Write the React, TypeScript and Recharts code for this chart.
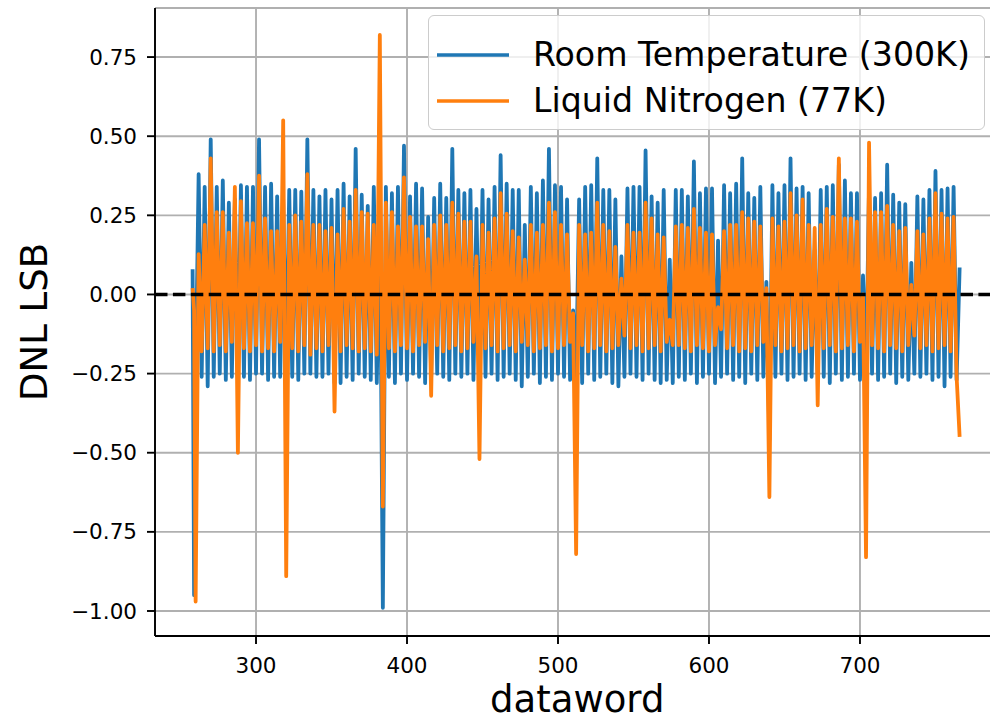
import React from 'react';
import { LineChart, Line, XAxis, YAxis, CartesianGrid, ReferenceLine, Legend } from 'recharts';

// Start of the sweep (datawords 258, 259)
const START_WORDS = [258, 259];
const BLUE_START = [0.08, -0.95];
const ORANGE_START = [0.02, -0.05];

// Troughs at datawords 260, 264, ... 764 ; peaks at 262, 266, ... 766
const FIRST_TROUGH_WORD = 260;
const WORD_STEP = 4;

const BLUE_TROUGHS = [
  -0.28, -0.26, -0.29, -0.26, -0.25, -0.27, -0.26, -0.27,
  -0.26, -0.27, -0.25, -0.25, -0.27, -0.26, -0.26, -0.25,
  -0.26, -0.27, -0.25, -0.25, -0.26, -0.26, -0.25, -0.28,
  -0.28, -0.26, -0.27, -0.25, -0.26, -0.27, -0.28, -0.99,
  -0.26, -0.28, -0.25, -0.27, -0.25, -0.26, -0.28, -0.26,
  -0.25, -0.26, -0.27, -0.25, -0.26, -0.25, -0.27, -0.25,
  -0.26, -0.25, -0.27, -0.26, -0.25, -0.27, -0.29, -0.26,
  -0.25, -0.28, -0.26, -0.27, -0.25, -0.26, -0.27, -0.26,
  -0.28, -0.25, -0.27, -0.26, -0.25, -0.28, -0.29, -0.26,
  -0.25, -0.26, -0.27, -0.25, -0.27, -0.28, -0.27, -0.28,
  -0.26, -0.27, -0.25, -0.28, -0.26, -0.25, -0.28, -0.26,
  -0.25, -0.27, -0.26, -0.28, -0.25, -0.27, -0.26, -0.46,
  -0.26, -0.25, -0.27, -0.26, -0.25, -0.27, -0.26, -0.25,
  -0.26, -0.28, -0.25, -0.27, -0.26, -0.25, -0.27, -0.26,
  -0.25, -0.27, -0.26, -0.25, -0.28, -0.26, -0.27, -0.25,
  -0.26, -0.25, -0.27, -0.26, -0.29, -0.26, -0.27,
];

const BLUE_PEAKS = [
  0.38, 0.34, 0.49, 0.34, 0.36, 0.29, 0.30, 0.345,
  0.34, 0.34, 0.49, 0.34, 0.35, 0.31, 0.30, 0.33,
  0.33, 0.325, 0.49, 0.33, 0.31, 0.33, 0.30, 0.33,
  0.35, 0.31, 0.46, 0.315, 0.28, 0.34, 0.30, 0.34,
  0.32, 0.34, 0.47, 0.31, 0.35, 0.335, 0.245, 0.305,
  0.35, 0.305, 0.46, 0.33, 0.32, 0.33, 0.27, 0.33,
  0.30, 0.34, 0.44, 0.35, 0.33, 0.33, 0.22, 0.34,
  0.32, 0.36, 0.46, 0.345, 0.34, 0.30, -0.05, 0.30,
  0.34, 0.345, 0.43, 0.33, 0.33, 0.30, 0.12, 0.335,
  0.34, 0.34, 0.455, 0.31, 0.29, 0.33, 0.11, 0.33,
  0.33, 0.31, 0.42, 0.32, 0.335, 0.335, 0.17, 0.345,
  0.32, 0.35, 0.43, 0.32, 0.305, 0.34, 0.04, 0.345,
  0.32, 0.345, 0.43, 0.335, 0.34, 0.32, 0.14, 0.33,
  0.34, 0.345, 0.41, 0.36, 0.32, 0.32, 0.06, 0.34,
  0.305, 0.32, 0.41, 0.315, 0.29, 0.285, 0.10, 0.31,
  0.30, 0.33, 0.39, 0.33, 0.335, 0.34, 0.085,
];

const ORANGE_TROUGHS = [
  -0.97, -0.18, -0.17, -0.18, -0.16, -0.18, -0.15, -0.50,
  -0.17, -0.18, -0.16, -0.18, -0.17, -0.18, -0.15, -0.89,
  -0.17, -0.18, -0.16, -0.19, -0.17, -0.18, -0.16, -0.37,
  -0.18, -0.16, -0.17, -0.18, -0.17, -0.18, -0.19, -0.67,
  -0.17, -0.18, -0.16, -0.17, -0.18, -0.16, -0.15, -0.32,
  -0.16, -0.18, -0.17, -0.16, -0.18, -0.17, -0.15, -0.52,
  -0.17, -0.16, -0.18, -0.17, -0.16, -0.18, -0.15, -0.16,
  -0.18, -0.17, -0.16, -0.18, -0.17, -0.16, -0.15, -0.82,
  -0.16, -0.18, -0.17, -0.16, -0.18, -0.17, -0.16, -0.13,
  -0.17, -0.16, -0.18, -0.17, -0.16, -0.18, -0.15, -0.16,
  -0.16, -0.17, -0.18, -0.16, -0.17, -0.18, -0.16, -0.11,
  -0.17, -0.16, -0.18, -0.17, -0.18, -0.16, -0.15, -0.64,
  -0.16, -0.18, -0.17, -0.16, -0.18, -0.17, -0.16, -0.35,
  -0.17, -0.16, -0.18, -0.17, -0.16, -0.18, -0.15, -0.83,
  -0.16, -0.17, -0.18, -0.16, -0.17, -0.18, -0.16, -0.13,
  -0.17, -0.16, -0.18, -0.17, -0.16, -0.18, -0.26,
];

const ORANGE_PEAKS = [
  0.127, 0.22, 0.43, 0.26, 0.26, 0.195, 0.34, 0.295,
  0.225, 0.225, 0.375, 0.24, 0.20, 0.20, 0.55, 0.22,
  0.25, 0.23, 0.38, 0.22, 0.22, 0.20, 0.21, 0.19,
  0.27, 0.23, 0.33, 0.26, 0.255, 0.22, 0.82, 0.29,
  0.26, 0.215, 0.37, 0.245, 0.215, 0.215, 0.175, 0.22,
  0.25, 0.22, 0.29, 0.255, 0.23, 0.23, 0.12, 0.22,
  0.195, 0.24, 0.32, 0.255, 0.20, 0.18, 0.11, 0.22,
  0.195, 0.22, 0.29, 0.26, 0.22, 0.19, -0.06, 0.22,
  0.19, 0.195, 0.29, 0.22, 0.20, 0.15, 0.05, 0.22,
  0.195, 0.195, 0.29, 0.24, 0.19, 0.18, -0.08, 0.215,
  0.22, 0.21, 0.27, 0.21, 0.195, 0.19, -0.04, 0.20,
  0.22, 0.22, 0.26, 0.24, 0.23, 0.215, 0.02, 0.24,
  0.215, 0.23, 0.32, 0.25, 0.30, 0.22, 0.21, 0.22,
  0.27, 0.245, 0.43, 0.24, 0.24, 0.23, 0.0, 0.48,
  0.26, 0.26, 0.28, 0.22, 0.20, 0.21, 0.03, 0.20,
  0.19, 0.24, 0.32, 0.255, 0.24, 0.245, -0.45,
];

const X_TICKS = [300, 400, 500, 600, 700];
const Y_TICKS = [-1.0, -0.75, -0.5, -0.25, 0.0, 0.25, 0.5, 0.75];
const X_DOMAIN: [number, number] = [233.1, 792.4];
const Y_DOMAIN: [number, number] = [-1.079, 0.905];

const SERIES_BLUE = 'Room Temperature (300K)';
const SERIES_ORANGE = 'Liquid Nitrogen (77K)';
const LEGEND_ORDER = [SERIES_BLUE, SERIES_ORANGE];

const rows: { x: number; blue: number; orange: number }[] = [];
START_WORDS.forEach((w, i) => rows.push({ x: w, blue: BLUE_START[i], orange: ORANGE_START[i] }));
BLUE_TROUGHS.forEach((_, k) => {
  const w = FIRST_TROUGH_WORD + WORD_STEP * k;
  rows.push({ x: w, blue: BLUE_TROUGHS[k], orange: ORANGE_TROUGHS[k] });
  rows.push({ x: w + 2, blue: BLUE_PEAKS[k], orange: ORANGE_PEAKS[k] });
});

const FONT = '"DejaVu Sans", sans-serif';
const fmtY = (v: number) => (v < 0 ? '\u2212' : '') + Math.abs(v).toFixed(2);

const XLabel = (props: any) => {
  const vb = props.viewBox || { x: 155, y: 636, width: 844.5, height: 85 };
  return (
    <text x={vb.x + vb.width / 2} y={vb.y + 76} textAnchor="middle" fontSize={37} fontFamily={FONT} fill="#000">
      dataword
    </text>
  );
};

const YLabel = (props: any) => {
  const vb = props.viewBox || { x: 0, y: 8, width: 155, height: 628 };
  const cx = 34;
  const cy = vb.y + vb.height / 2;
  return (
    <text
      x={cx}
      y={cy}
      transform={`rotate(-90, ${cx}, ${cy})`}
      textAnchor="middle"
      dominantBaseline="central"
      fontSize={37}
      fontFamily={FONT}
      fill="#000"
    >
      DNL LSB
    </text>
  );
};

const LegendBox = (props: any) => {
  const payload = [...(props.payload || [])].sort(
    (a: any, b: any) => LEGEND_ORDER.indexOf(a.value) - LEGEND_ORDER.indexOf(b.value)
  );
  return (
    <div
      style={{
        position: 'relative',
        width: 557,
        height: 115,
        boxSizing: 'border-box',
        border: '1.5px solid #cccccc',
        borderRadius: 6,
        background: 'rgba(255,255,255,0.8)',
        fontFamily: FONT,
      }}
    >
      {payload.map((p: any, i: number) => (
        <div key={i} style={{ position: 'absolute', left: 0, top: 39 + i * 46 - 22, height: 44, width: 557 }}>
          <svg width={90} height={44} style={{ position: 'absolute', left: 0, top: 0 }}>
            <line x1={8} y1={22} x2={80} y2={22} stroke={p.color} strokeWidth={3.4} />
          </svg>
          <span
            style={{
              position: 'absolute',
              left: 104,
              top: 0,
              lineHeight: '44px',
              fontSize: 33.2,
              color: '#000',
              whiteSpace: 'nowrap',
            }}
          >
            {p.value}
          </span>
        </div>
      ))}
    </div>
  );
};

export default function App() {
  return (
    <div style={{ position: 'absolute', left: 0, top: 0, width: 990, height: 721, overflow: 'hidden', background: '#fff' }}>
      <LineChart width={1005} height={721} data={rows} margin={{ top: 8, right: 5.5, bottom: 0, left: 0 }}>
        <CartesianGrid stroke="#b0b0b0" strokeWidth={1.9} />
        <XAxis
          dataKey="x"
          type="number"
          domain={X_DOMAIN}
          ticks={X_TICKS}
          allowDataOverflow
          height={85}
          tickSize={8}
          tickMargin={14}
          axisLine={{ stroke: '#000', strokeWidth: 1.9 }}
          tickLine={{ stroke: '#000', strokeWidth: 1.9 }}
          tick={{ fontSize: 21.5, fill: '#000', fontFamily: FONT }}
          label={<XLabel />}
        />
        <XAxis
          xAxisId="top"
          orientation="top"
          type="number"
          domain={X_DOMAIN}
          allowDataOverflow
          height={0}
          tick={false}
          tickLine={false}
          axisLine={{ stroke: '#000', strokeWidth: 1.9 }}
        />
        <YAxis
          type="number"
          domain={Y_DOMAIN}
          ticks={Y_TICKS}
          allowDataOverflow
          width={155}
          tickSize={8}
          tickMargin={10}
          tickFormatter={fmtY}
          axisLine={{ stroke: '#000', strokeWidth: 1.9 }}
          tickLine={{ stroke: '#000', strokeWidth: 1.9 }}
          tick={{ fontSize: 21.5, fill: '#000', fontFamily: FONT }}
          label={<YLabel />}
        />
        <Line
          type="linear"
          dataKey="blue"
          name={SERIES_BLUE}
          stroke="#1f77b4"
          strokeWidth={3.8}
          strokeLinejoin="round"
          dot={false}
          activeDot={false}
          isAnimationActive={false}
        />
        <Line
          type="linear"
          dataKey="orange"
          name={SERIES_ORANGE}
          stroke="#ff7f0e"
          strokeWidth={3.8}
          strokeLinejoin="round"
          dot={false}
          activeDot={false}
          isAnimationActive={false}
        />
        <ReferenceLine y={0} stroke="#000" strokeWidth={3.4} strokeDasharray="12.5 5.4" />
        <Legend
          layout="vertical"
          align="center"
          verticalAlign="middle"
          content={<LegendBox />}
          wrapperStyle={{ left: 428, top: 15, width: 557, height: 115 }}
        />
      </LineChart>
    </div>
  );
}
